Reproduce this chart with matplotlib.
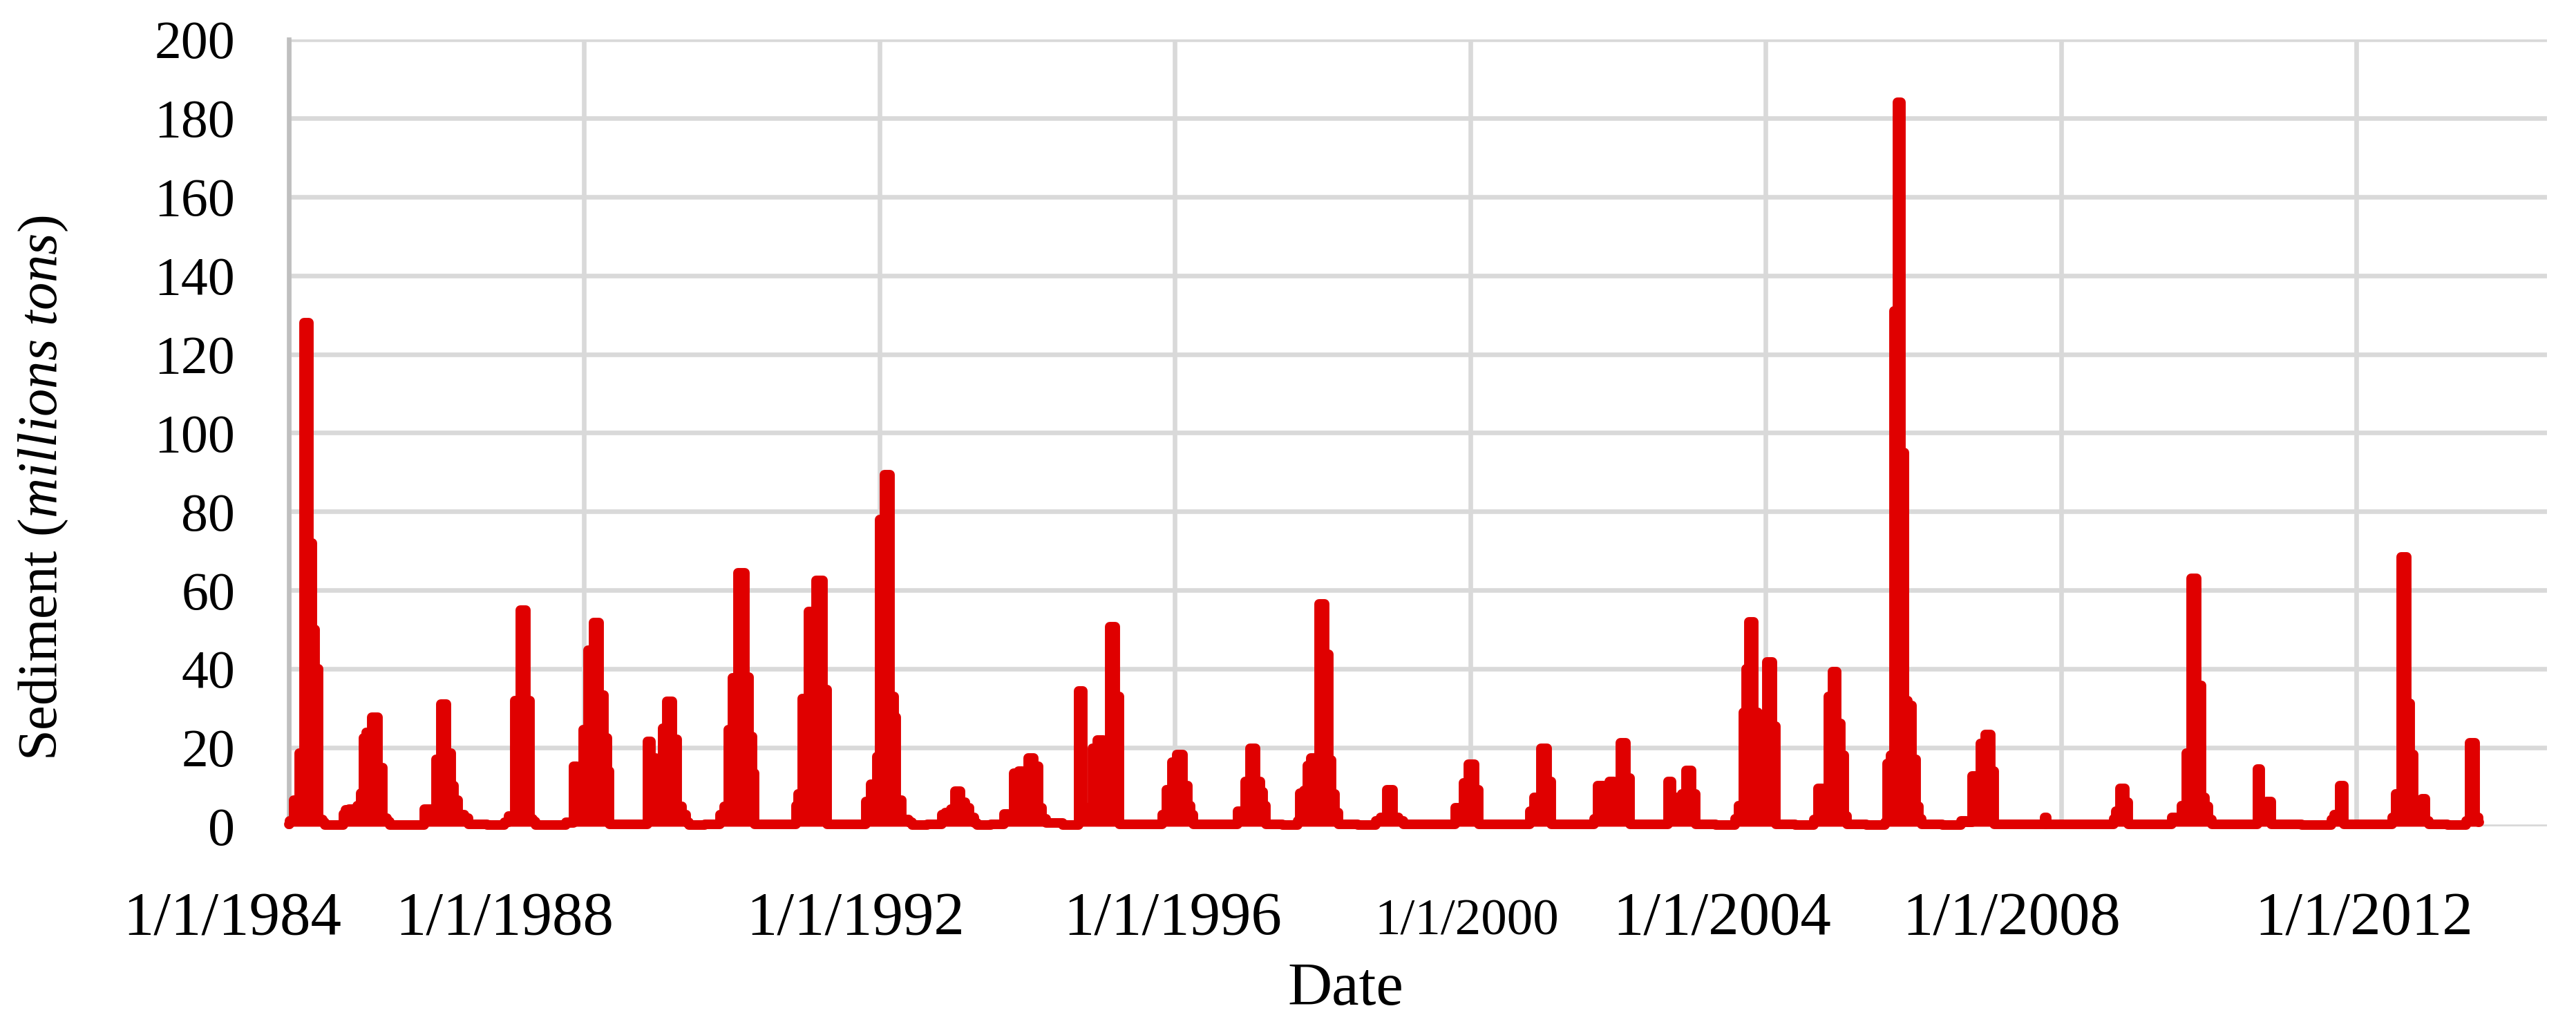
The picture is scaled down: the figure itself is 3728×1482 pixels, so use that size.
import pandas as pd
import matplotlib
matplotlib.use("Agg")
import matplotlib.pyplot as plt
import matplotlib.transforms as mtransforms

plt.rcParams["font.family"] = ["Liberation Serif", "DejaVu Serif"]
plt.rcParams["mathtext.fontset"] = "custom"
plt.rcParams["mathtext.rm"] = "Liberation Serif"
plt.rcParams["mathtext.it"] = "Liberation Serif:italic"

# daily sediment load (millions tons)
dates = [
    "1984-01-01", "1984-01-06", "1984-02-14", "1984-03-03", "1984-04-02", "1984-04-17", "1984-05-07", "1984-05-16",
    "1984-06-09", "1984-06-24", "1984-07-01", "1984-08-15", "1984-09-25",
    "1984-09-30", "1984-10-17", "1984-11-02", "1984-11-26", "1984-12-16", "1984-12-27", "1985-01-11", "1985-01-28",
    "1985-03-03", "1985-04-03", "1985-04-20", "1985-05-10", "1985-05-17", "1985-08-01",
    "1985-10-30", "1985-11-03", "1985-12-01", "1985-12-21", "1986-01-06", "1986-02-07", "1986-03-05", "1986-03-21",
    "1986-04-05", "1986-05-01", "1986-06-03", "1986-06-15",
    "1986-12-01", "1986-12-05", "1987-01-13", "1987-02-04", "1987-03-04", "1987-03-31", "1987-04-15", "1987-05-02",
    "1987-05-09",
    "1987-10-01", "1987-10-06", "1987-11-08", "1987-11-12", "1987-12-13", "1988-01-08", "1988-02-01", "1988-03-02",
    "1988-03-31", "1988-04-15", "1988-05-03", "1988-05-08",
    "1988-11-06", "1988-11-12", "1988-12-10", "1988-12-28", "1989-01-15", "1989-01-30", "1989-02-25", "1989-03-26",
    "1989-04-14", "1989-05-12", "1989-05-29", "1989-06-05",
    "1989-11-01", "1989-11-06", "1989-12-08", "1989-12-23", "1990-01-16", "1990-02-18", "1990-03-20", "1990-04-04",
    "1990-04-19", "1990-04-24",
    "1990-11-12", "1990-11-17", "1990-11-30", "1990-12-28", "1991-02-01", "1991-03-13", "1991-04-14", "1991-04-20",
    "1991-10-22", "1991-10-27", "1991-12-10", "1991-12-25", "1992-01-12", "1992-02-09", "1992-03-06", "1992-03-19",
    "1992-03-30", "1992-05-10", "1992-06-07", "1992-06-14",
    "1992-11-01", "1992-11-06", "1992-12-09", "1992-12-27", "1993-01-24", "1993-02-19", "1993-03-09", "1993-04-03",
    "1993-04-23", "1993-04-30",
    "1993-09-07", "1993-09-12", "1993-10-13", "1993-11-06", "1993-11-30", "1993-12-21", "1994-01-19", "1994-02-17",
    "1994-03-04", "1994-03-28", "1994-04-13",
    "1994-09-10", "1994-09-16", "1994-10-20", "1994-11-11", "1994-12-01", "1994-12-29", "1995-01-29", "1995-02-26",
    "1995-03-29", "1995-04-03",
    "1995-10-28", "1995-11-02", "1995-12-07", "1995-12-28", "1996-01-26", "1996-02-25", "1996-03-11", "1996-03-24",
    "1996-04-07",
    "1996-11-03", "1996-11-08", "1996-12-09", "1996-12-22", "1997-01-21", "1997-02-19", "1997-03-06", "1997-03-21",
    "1997-04-02",
    "1997-08-29", "1997-09-03", "1997-09-20", "1997-10-10", "1997-10-25", "1997-11-11", "1997-12-03", "1997-12-29",
    "1998-01-25", "1998-02-09", "1998-02-22", "1998-03-12", "1998-03-28",
    "1998-09-19", "1998-09-24", "1998-11-03", "1998-11-28", "1998-12-31", "1999-01-26", "1999-02-11",
    "1999-10-16", "1999-10-21", "1999-11-21", "1999-12-06", "2000-01-06", "2000-02-05", "2000-02-16",
    "2000-10-21", "2000-10-26", "2000-11-30", "2001-01-01", "2001-02-01", "2001-02-10",
    "2001-09-01", "2001-09-06", "2001-10-07", "2001-11-07", "2001-11-29", "2001-12-27", "2002-01-27", "2002-02-24",
    "2002-03-07",
    "2002-09-03", "2002-09-08", "2002-10-09", "2002-11-03", "2002-11-22", "2002-12-17", "2003-01-17", "2003-01-26",
    "2003-08-02", "2003-08-07", "2003-09-04", "2003-09-23", "2003-10-03", "2003-10-21", "2003-11-15", "2003-12-03",
    "2003-12-25", "2004-01-22", "2004-02-16", "2004-02-25",
    "2004-08-25", "2004-08-30", "2004-10-01", "2004-10-29", "2004-11-13", "2004-12-08", "2004-12-30", "2005-01-15",
    "2005-02-02", "2005-02-14",
    "2005-08-13", "2005-08-18", "2005-09-02", "2005-09-17", "2005-10-07", "2005-10-22", "2005-11-11", "2005-11-26",
    "2005-12-16", "2006-01-05", "2006-01-23", "2006-02-04", "2006-02-19",
    "2006-08-24", "2006-08-29", "2006-10-16", "2006-10-21", "2006-11-18", "2006-12-09", "2007-01-06", "2007-02-03",
    "2007-02-09",
    "2007-10-10", "2007-10-17", "2007-10-30",
    "2008-09-15", "2008-09-20", "2008-10-08", "2008-10-30", "2008-11-24", "2008-12-05",
    "2009-07-01", "2009-07-06", "2009-08-07", "2009-09-04", "2009-09-23", "2009-10-20", "2009-11-17", "2009-12-03",
    "2009-12-21", "2010-01-12", "2010-01-24",
    "2010-08-29", "2010-09-03", "2010-09-21", "2010-10-07", "2010-10-21", "2010-11-04", "2010-11-12",
    "2011-08-28", "2011-09-02", "2011-09-24", "2011-10-26", "2011-11-05",
    "2012-06-25", "2012-06-30", "2012-07-28", "2012-08-25", "2012-09-16", "2012-10-01", "2012-10-23", "2012-11-11",
    "2012-11-30", "2012-12-19", "2012-12-29",
    "2013-06-24", "2013-06-29", "2013-07-27", "2013-08-24", "2013-08-31",
]
sediment = [
    0.5, 1.4, 6.6, 18.6, 128, 72, 50, 40,
    1.7, 1.0, 0.3, 0.4, 0.3,
    3.2, 4.2, 4.4, 4.0, 5.3, 8.4, 22.4, 23.8,
    27.7, 14.9, 2.1, 1.3, 0.3, 0.3,
    0.3, 4.4, 4.4, 3.8, 17, 31, 18.6, 10.4,
    6.6, 2.9, 2.1, 0.5,
    0.3, 1.0, 2.6, 32, 55, 32, 2.0, 1.2,
    0.3,
    0.3, 1.0, 0.8, 15.2, 11.7, 24.6, 44.8, 51.8,
    33.3, 22.4, 14.0, 0.5,
    0.5, 21.6, 17.3, 10.6, 8.8, 25, 31.8, 22.1,
    5.0, 2.9, 1.0, 0.3,
    0.5, 2.9, 5.0, 24.6, 37.8, 64.5, 38, 22.8,
    13.6, 0.5,
    0.5, 5.3, 8.2, 32.4, 54.6, 62.5, 34.7, 0.5,
    0.5, 6.3, 10.7, 17.7, 78, 89.3, 33, 27.7,
    6.6, 1.8, 1.0, 0.3,
    0.5, 2.9, 3.5, 4.4, 9.0, 6.1, 4.7, 2.3,
    0.8, 0.3,
    0.5, 3.2, 2.6, 13.6, 14.0, 8.8, 17.4, 15.2,
    4.7, 2.0, 0.8,
    0.3, 34.4, 3.5, 4.7, 19.9, 21.9, 17.4, 50.7,
    33, 0.5,
    0.5, 2.9, 9.3, 16.3, 18.3, 10.4, 5.3, 2.9,
    0.5,
    0.5, 3.8, 2.3, 11.4, 19.9, 11.4, 8.8, 5.3,
    0.5,
    0.3, 1.4, 8.5, 9.1, 15.5, 17.3, 17.4, 56.5,
    43.8, 16.9, 8.2, 3.5, 0.5,
    0.3, 1.4, 2.3, 9.3, 2.3, 1.4, 0.5,
    0.5, 4.7, 2.3, 11.1, 15.8, 9.3, 0.5,
    0.5, 3.8, 7.3, 19.9, 11.4, 0.5,
    0.5, 2.0, 10.4, 8.2, 11.4, 7.8, 21.3, 12.2,
    0.5,
    0.5, 11.4, 4.4, 7.3, 8.2, 14.3, 8.2, 0.5,
    0.3, 2.0, 5.3, 28.9, 40.1, 52, 28.9, 5.8,
    25.7, 41.7, 25.4, 0.5,
    0.3, 1.7, 9.6, 8.2, 33, 39.4, 26.2, 18,
    2.6, 0.5,
    0.3, 1.0, 16, 18, 131, 184, 95, 32,
    30.7, 17, 5, 2, 0.5,
    0.3, 1.4, 1.0, 12.8, 3.8, 21, 23.4, 14,
    0.5,
    0.5, 2.3, 0.5,
    0.5, 2.0, 3.8, 9.6, 6.1, 0.5,
    0.5, 2.3, 1.4, 5.3, 18.6, 63, 35.9, 7.3,
    5.0, 1.7, 0.5,
    0.5, 14.6, 2.6, 2.6, 6.4, 6.4, 0.5,
    0.3, 1.7, 2.9, 10.4, 0.5,
    0.5, 2.3, 8.2, 68.5, 31.2, 18.3, 5.0, 3.2,
    7.0, 1.4, 0.5,
    0.3, 1.4, 21.3, 2.3, 1.0,
]

tick_dates = ["1984-01-01", "1988-01-01", "1992-01-01", "1996-01-01",
              "2000-01-01", "2004-01-01", "2008-01-01", "2012-01-01"]
tick_labels = ["1/1/1984", "1/1/1988", "1/1/1992", "1/1/1996",
               "1/1/2000", "1/1/2004", "1/1/2008", "1/1/2012"]
# the labels sit a bit off their gridlines in the original (points)
label_shift = [-29.5, -41.4, -12.6, -1.1, -1.8, -22.7, -25.6, 4.0]
label_size = [32, 32, 32, 32, 27, 32, 32, 32]

x = pd.to_datetime(dates)
ticks = pd.to_datetime(tick_dates)

fig = plt.figure(figsize=(18.64, 7.41), dpi=200)
ax = fig.add_axes([0.1121, 0.193, 0.8766, 0.7686])

red = "#E00000"
# daily values are packed so tightly the original looks like solid steps
ax.fill_between(x, sediment, step="mid", color=red, lw=0, zorder=3)
ax.plot(x, sediment, color=red, lw=5.0, drawstyle="steps-mid",
        solid_joinstyle="round", solid_capstyle="round", clip_on=False, zorder=3)

ax.set_xlim(pd.Timestamp("1984-01-01"), pd.Timestamp("2014-08-01"))
ax.set_ylim(0, 200)
ax.set_yticks(range(0, 201, 20))
ax.set_xticks(ticks)
ax.set_xticklabels([])
ax.tick_params(axis="both", length=0)
ax.tick_params(axis="y", labelsize=28, pad=28)

ax.grid(True, color="#D9D9D9", lw=2.4)
ax.set_axisbelow(True)
for s in ["top", "right", "bottom"]:
    ax.spines[s].set_visible(False)
ax.spines["left"].set_color("#BFBFBF")
ax.spines["left"].set_linewidth(2.4)

trans = mtransforms.blended_transform_factory(ax.transData, ax.transAxes)
for d, lab, dx, fs in zip(ticks, tick_labels, label_shift, label_size):
    t = mtransforms.offset_copy(trans, fig=fig, x=dx, y=0, units="points")
    ax.text(d, -0.137, lab, transform=t, ha="center", va="baseline", fontsize=fs)

ax.set_xlabel("Date", fontsize=32)
ax.xaxis.set_label_coords(0.468, -0.172)
ax.set_ylabel(r"Sediment ($\mathit{millions\ tons}$)", fontsize=29)
ax.yaxis.set_label_coords(-0.097, 0.43)

fig.savefig("out.png", dpi=200)
